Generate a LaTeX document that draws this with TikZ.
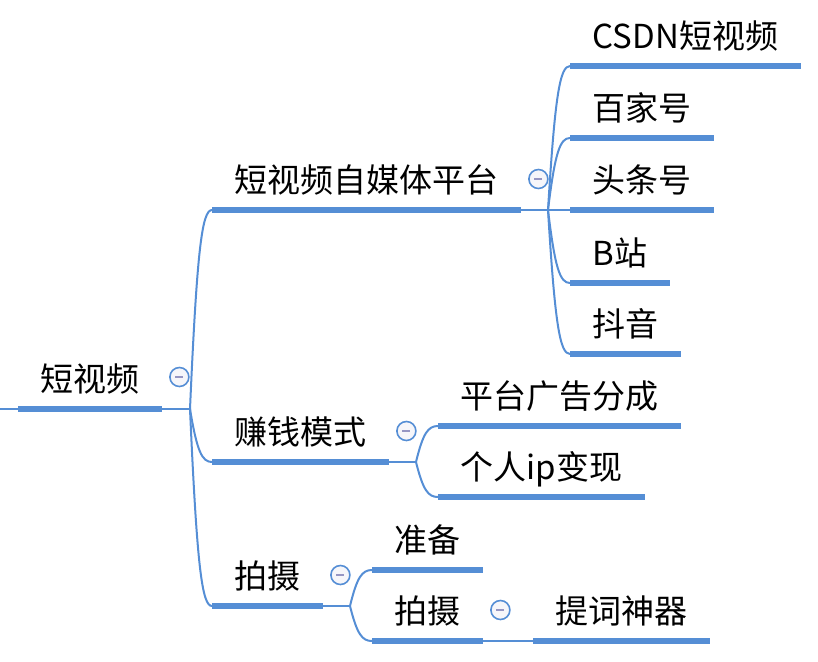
\documentclass[tikz,border=0pt]{standalone}
\usepackage{fontspec}
\newfontfamily\cjk{Noto Sans CJK SC}
\usepackage{tikz}
\usetikzlibrary{calc}
\definecolor{linecolor}{RGB}{85,142,213}
\definecolor{foldfill}{RGB}{246,246,250}
\definecolor{minuscolor}{RGB}{150,150,195}

\begin{document}
\begin{tikzpicture}[
    x=1pt, y=-1pt,
    topic/.style={anchor=south west, inner xsep=22.5pt, inner ysep=0pt, text height=28pt, text depth=17.5pt, font=\cjk\fontsize{33}{33}\selectfont},
    under/.style={line width=6pt, draw=linecolor},
    link/.style={line width=2pt, draw=linecolor, to path={.. controls ($(\tikztostart)!0.8!(\tikztostart |- \tikztotarget)+(7pt,0)$) and ($(\tikztotarget)+(-10pt,0)$) .. (\tikztotarget)}},
    fold/.style={circle, draw=linecolor, fill=foldfill, line width=1.6pt, minimum size=19pt, inner sep=0pt, path picture={\draw[minuscolor, line width=2pt] ([xshift=-4pt]path picture bounding box.center) -- ([xshift=4pt]path picture bounding box.center);}}
]
\useasboundingbox (0,0) rectangle (818,661);

\node[topic] (root) at (18, 409) {短视频};
\node[topic] (media) at (212, 210) {短视频自媒体平台};
\node[topic] (money) at (212, 462) {赚钱模式};
\node[topic] (shoot) at (212, 606) {拍摄};

\node[topic] (csdn) at (570, 66) {CSDN短视频};
\node[topic] (baijia) at (570, 138) {百家号};
\node[topic] (toutiao) at (570, 210) {头条号};
\node[topic] (bili) at (570, 283) {B站};
\node[topic] (douyin) at (570, 354) {抖音};

\node[topic] (ads) at (438, 426) {平台广告分成};
\node[topic] (ip) at (438, 497) {个人ip变现};

\node[topic] (prep) at (372, 570) {准备};
\node[topic] (film) at (372, 641) {拍摄};
\node[topic] (prompt) at (533, 641) {提词神器};

\coordinate (in) at (0, 409);
\coordinate (j0) at (190, 409);
\coordinate (j1) at (548, 210);
\coordinate (j2) at (416, 462);
\coordinate (j3) at (350, 606);
\coordinate (j4) at (511, 641);

\draw[link] (in) -- (root.south west);
\draw[link] (root.south east) -- (j0);
\draw[link] (j0) to (media.south west);
\draw[link] (j0) to (money.south west);
\draw[link] (j0) to (shoot.south west);

\draw[link] (media.south east) -- (j1);
\draw[link] (j1) to (csdn.south west);
\draw[link] (j1) to (baijia.south west);
\draw[link] (j1) to (toutiao.south west);
\draw[link] (j1) to (bili.south west);
\draw[link] (j1) to (douyin.south west);

\draw[link] (money.south east) -- (j2);
\draw[link] (j2) to (ads.south west);
\draw[link] (j2) to (ip.south west);

\draw[link] (shoot.south east) -- (j3);
\draw[link] (j3) to (prep.south west);
\draw[link] (j3) to (film.south west);

\draw[link] (film.south east) -- (j4);
\draw[link] (j4) to (prompt.south west);

\draw[under] (root.south west) -- (root.south east);
\draw[under] (media.south west) -- (media.south east);
\draw[under] (money.south west) -- (money.south east);
\draw[under] (shoot.south west) -- (shoot.south east);
\draw[under] (csdn.south west) -- (csdn.south east);
\draw[under] (baijia.south west) -- (baijia.south east);
\draw[under] (toutiao.south west) -- (toutiao.south east);
\draw[under] (bili.south west) -- (bili.south east);
\draw[under] (douyin.south west) -- (douyin.south east);
\draw[under] (ads.south west) -- (ads.south east);
\draw[under] (ip.south west) -- (ip.south east);
\draw[under] (prep.south west) -- (prep.south east);
\draw[under] (film.south west) -- (film.south east);
\draw[under] (prompt.south west) -- (prompt.south east);

\node[fold] (f0) at ($(root.south east)+(17pt,32pt)$) {};
\node[fold] (f1) at ($(media.south east)+(17pt,31pt)$) {};
\node[fold] (f2) at ($(money.south east)+(17pt,31pt)$) {};
\node[fold] (f3) at ($(shoot.south east)+(17pt,31pt)$) {};
\node[fold] (f4) at ($(film.south east)+(17pt,31pt)$) {};

\end{tikzpicture}
\end{document}
